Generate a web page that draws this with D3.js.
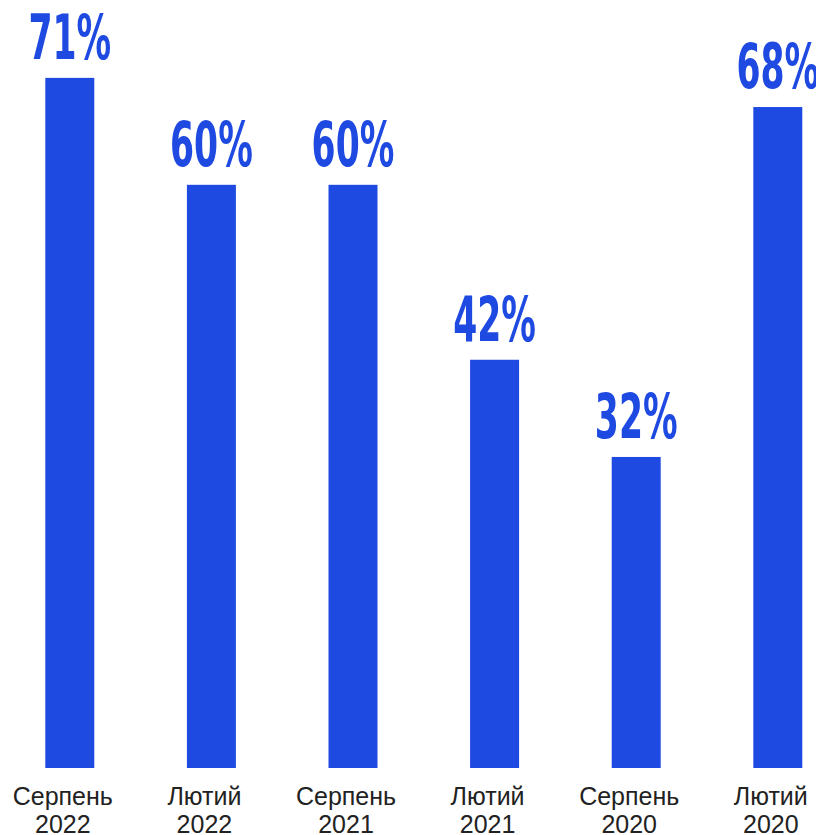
<!DOCTYPE html>
<html>
<head>
<meta charset="utf-8">
<script src="https://cdn.jsdelivr.net/npm/d3@7"></script>
<style>
  html, body { margin: 0; padding: 0; background: #fff; }
  svg { display: block; }
</style>
</head>
<body>
<div id="chart"></div>
<script>
(function() {
  // data
  var months = ['Серпень', 'Лютий', 'Серпень', 'Лютий', 'Серпень', 'Лютий'],
      years = ['2022', '2022', '2021', '2021', '2020', '2020'],
      values = [71, 60, 60, 42, 32, 68];

  // config
  var width = 816,
      height = 835,
      baseY = 768, // bottom of bars
      blue = '#1f4ae2';

  var keys = values.map(function(d, i) { return i; });

  var svg = d3.select('#chart').append('svg')
    .attr('width', width)
    .attr('height', height);

  var x = d3.scaleBand()
    .domain(keys)
    .range([-1, 848.6])
    .paddingInner(0.654)
    .paddingOuter(0.327);

  // 9.72px per percent
  var y = d3.scaleLinear()
    .domain([0, 100])
    .range([baseY, baseY - 972]);

  // bars
  svg.selectAll('rect.bar')
    .data(values)
    .enter().append('rect')
    .attr('class', 'bar')
    .attr('x', function(d, i) { return x(i); })
    .attr('y', function(d) { return y(d); })
    .attr('width', x.bandwidth())
    .attr('height', function(d) { return y(0) - y(d); })
    .attr('fill', blue);

  // value labels (condensed look)
  svg.selectAll('text.val')
    .data(values)
    .enter().append('text')
    .attr('class', 'val')
    .attr('transform', function(d, i) {
      return 'translate(' + (x(i) + x.bandwidth() / 2) + ',' + (y(d) - 19) + ') scale(0.62,1)';
    })
    .attr('text-anchor', 'middle')
    .attr('font-family', '"DejaVu Sans Condensed", "DejaVu Sans", sans-serif')
    .attr('font-weight', 'bold')
    .attr('font-size', 62)
    .attr('fill', blue)
    .text(function(d) { return d + '%'; });

  // category labels (two lines), sit a little left of the bar centre
  var cat = svg.selectAll('text.cat')
    .data(keys)
    .enter().append('text')
    .attr('class', 'cat')
    .attr('text-anchor', 'middle')
    .attr('font-family', '"Liberation Sans", Arial, sans-serif')
    .attr('font-size', 25)
    .attr('fill', '#222');

  cat.append('tspan')
    .attr('x', function(i) { return x(i) + x.bandwidth() / 2 - 7; })
    .attr('y', 805)
    .text(function(i) { return months[i]; });

  cat.append('tspan')
    .attr('x', function(i) { return x(i) + x.bandwidth() / 2 - 7; })
    .attr('y', 833)
    .text(function(i) { return years[i]; });
})();
</script>
</body>
</html>
